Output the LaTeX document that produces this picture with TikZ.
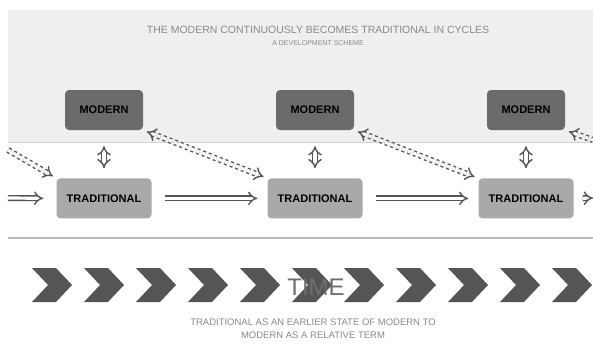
\documentclass[tikz,border=0pt]{standalone}
\usepackage{fontspec}
\setmainfont{Liberation Sans}
\usetikzlibrary{arrows.meta,positioning}
\definecolor{panelgray}{HTML}{EFEFEF}
\definecolor{moderngray}{HTML}{6B6B6B}
\definecolor{tradgray}{HTML}{A9A9A9}
\definecolor{chevgray}{HTML}{555555}
\definecolor{linegray}{HTML}{555555}
\definecolor{textgray}{HTML}{8A8A8A}
\tikzset{
  basic/.style  = {rectangle, rounded corners=4pt, align=center,
                   font=\fontsize{11}{12}\selectfont\bfseries, minimum height=40pt},
  modern/.style = {basic, fill=moderngray, minimum width=78pt},
  traditional/.style = {basic, fill=tradgray, minimum width=95pt, inner sep=2pt},
  hollow/.style = {draw=linegray, line width=1.4pt, double=white, double distance=3.2pt},
  flow/.style   = {hollow, -{Implies[length=6pt]}},
  link/.style   = {hollow, {Implies[length=6pt]}-{Implies[length=6pt]}},
  jump/.style   = {hollow, dashed, {Implies[length=6pt]}-{Implies[length=6pt]}},
  chevron/.style = {fill=chevgray}
}

\begin{document}
\begin{tikzpicture}[x=1pt, y=-1pt]
\useasboundingbox (0,0) rectangle (593,346);
\fill[white] (0,0) rectangle (593,346);

% panels
\fill[panelgray] (8,10) rectangle (593,142);
\draw[gray!35, line width=0.8pt] (8,142) -- (593,142);
\draw[gray!55, line width=1.5pt] (8,238) -- (593,238);

% titles
\node[text=textgray, font=\fontsize{10.5}{12}\selectfont] (title) at (318,30)
  {THE MODERN CONTINUOUSLY BECOMES TRADITIONAL IN CYCLES};
\node[text=textgray, font=\fontsize{7}{8}\selectfont] (subtitle) at (318,43)
  {A DEVELOPMENT SCHEME};

% first row
\node[modern] (m1) at (104,110) {MODERN};
\node[modern] (m2) at (315,110) {MODERN};
\node[modern] (m3) at (526,110) {MODERN};

% second row, relatively positioned
\node[traditional, below=48pt of m1] (t1) {TRADITIONAL};
\node[traditional, below=48pt of m2] (t2) {TRADITIONAL};
\node[traditional, below=48pt of m3] (t3) {TRADITIONAL};

\coordinate (inflow) at (8,198);
\coordinate (outflow) at (593,198);
\coordinate (injump) at (8,150);
\coordinate (outjump) at (593,140);

\foreach \value in {1,2,3}
  \draw[link, shorten <=16pt, shorten >=10pt] (m\value.south) -- (t\value.north);

\draw[flow, shorten >=13pt] (inflow) -- (t1.west);
\draw[flow, shorten <=13pt, shorten >=10pt] (t1.east) -- (t2.west);
\draw[flow, shorten <=13pt, shorten >=10pt] (t2.east) -- (t3.west);
\draw[flow, shorten <=9pt] (t3.east) -- (outflow);

\draw[hollow, dashed, -{Implies[length=6pt]}, shorten >=4pt] (injump) -- (t1.north west);
\draw[jump, shorten <=4pt, shorten >=4pt] (m1.south east) -- (t2.north west);
\draw[jump, shorten <=4pt, shorten >=4pt] (m2.south east) -- (t3.north west);
\draw[hollow, dashed, {Implies[length=6pt]}-, shorten <=4pt] (m3.south east) -- (outjump);

% time line
\foreach \x in {0,...,10}
  \fill[chevron] (32+52*\x,268) -- ++(24,0) -- ++(16,17) -- ++(-16,17)
    -- ++(-24,0) -- ++(16,-17) -- cycle;
\node[text=textgray!80!black, font=\fontsize{24}{26}\selectfont] (time) at (316,287) {TIME};

\node[text=textgray, align=center, font=\fontsize{9.5}{13}\selectfont] (caption) at (313,329)
  {TRADITIONAL AS AN EARLIER STATE OF MODERN TO\\MODERN AS A RELATIVE TERM};
\end{tikzpicture}
\end{document}
